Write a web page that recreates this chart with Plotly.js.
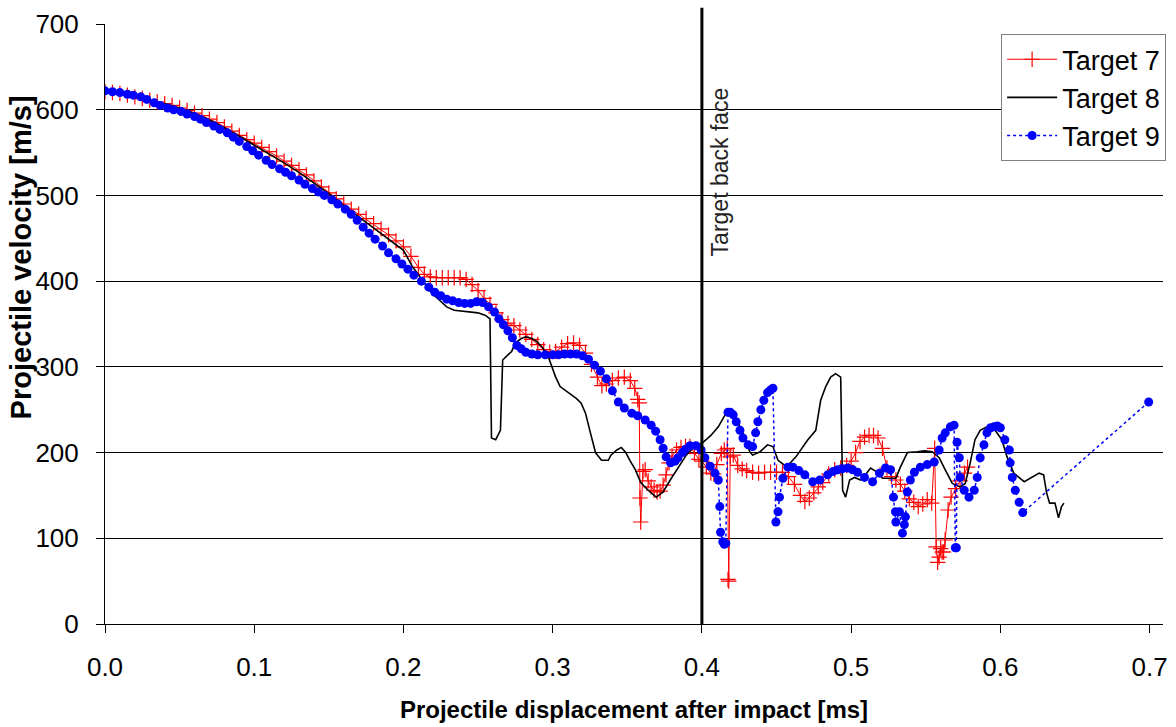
<!DOCTYPE html>
<html>
<head>
<meta charset="utf-8">
<script src="https://cdn.plot.ly/plotly-3.0.1.min.js"></script>
<style>html,body{margin:0;padding:0;background:#fff;}</style>
</head>
<body>
<div id="chart" style="width:1176px;height:727px;"></div>
<script>
// ---- Data ----
const seriesNames = ["Target 7", "Target 8", "Target 9"];

const t7x = [0,0.005,0.01,0.015,0.02,0.025,0.03,0.035,0.04,0.045,0.05,0.055,0.06,0.065,0.07,0.075,0.08,0.085,0.09,0.095,0.1,0.105,0.11,0.115,0.12,0.125,0.13,0.135,0.14,0.145,0.15,0.155,0.16,0.165,0.17,0.175,0.18,0.185,0.19,0.195,0.2,0.205,0.21,0.214,0.218,0.222,0.226,0.23,0.234,0.238,0.242,0.246,0.25,0.254,0.258,0.262,0.266,0.27,0.274,0.278,0.282,0.286,0.29,0.294,0.298,0.302,0.306,0.31,0.314,0.318,0.322,0.326,0.33,0.333,0.336,0.34,0.344,0.348,0.352,0.355,0.357,0.358,0.3585,0.359,0.3605,0.362,0.364,0.366,0.368,0.37,0.372,0.374,0.376,0.378,0.38,0.383,0.386,0.389,0.392,0.395,0.398,0.4,0.403,0.406,0.408,0.41,0.413,0.415,0.417,0.4175,0.418,0.419,0.421,0.424,0.427,0.43,0.434,0.438,0.442,0.446,0.45,0.454,0.458,0.462,0.466,0.469,0.472,0.475,0.478,0.481,0.485,0.489,0.493,0.497,0.5,0.503,0.506,0.509,0.512,0.515,0.518,0.521,0.524,0.527,0.53,0.533,0.536,0.539,0.542,0.545,0.548,0.551,0.554,0.556,0.557,0.558,0.559,0.56,0.561,0.562,0.563,0.565,0.567,0.57,0.573,0.576,0.578];
const t7y = [621,620,619,617,615,613,611,609,607,605,602,599,596,593,589,585,580,575,570,565,561,556,551,546,540,535,530,524,517,510,503,496,490,484,478,473,467,461,454,447,440,429,416,408,405,404,404,404,404,404,402,396,389,380,373,363,355,351,348,343,338,332,326,320,317,318,323,327,328,325,316,303,288,278,280,284,287,288,284,275,262,258,147,119,178,180,167,160,156,154,155,162,174,188,196,203,206,207,207,199,192,190,183,176,175,186,199,203,205,52,50,195,197,185,181,179,177,176,177,177,177,177,172,163,150,143,147,153,160,165,175,180,182,185,190,200,213,218,220,220,217,205,182,172,168,163,155,146,142,137,140,145,141,205,90,72,78,88,84,84,98,133,148,158,167,176,183];

const t8x = [0,0.01,0.02,0.03,0.04,0.05,0.06,0.07,0.08,0.09,0.1,0.11,0.12,0.13,0.14,0.15,0.16,0.17,0.18,0.19,0.2,0.206,0.212,0.219,0.224,0.229,0.234,0.239,0.244,0.25,0.255,0.258,0.259,0.2618,0.265,0.2665,0.27,0.2725,0.275,0.279,0.282,0.286,0.289,0.293,0.297,0.3,0.302,0.305,0.309,0.313,0.316,0.319,0.322,0.3253,0.3287,0.3327,0.3373,0.339,0.343,0.346,0.349,0.352,0.3554,0.359,0.364,0.3694,0.374,0.3788,0.384,0.3895,0.394,0.3975,0.4008,0.406,0.411,0.4175,0.421,0.424,0.429,0.432,0.434,0.439,0.444,0.4476,0.451,0.4556,0.4576,0.463,0.467,0.471,0.4763,0.4796,0.483,0.4863,0.4896,0.493,0.4943,0.4963,0.499,0.5023,0.5063,0.51,0.513,0.5177,0.521,0.5257,0.53,0.533,0.5377,0.5444,0.549,0.5544,0.559,0.563,0.5678,0.573,0.5765,0.5798,0.583,0.5865,0.591,0.5965,0.601,0.6045,0.609,0.616,0.621,0.626,0.629,0.631,0.633,0.6366,0.639,0.641,0.6426];
const t8y = [620,618,615,611,607,602,596,588,579,569,559,549,538,527,515,502,488,475,463,450,436,417,402,386,378,370,366,365,364,363,360,356,217,215,226,308,314,318,328,333,335,333,330,323,312,297,288,277,272,267,263,258,246,223,200,191,191,197,203,206,200,190,180,165,156,148,154,168,182,197,205,209,212,220,230,250,246,236,217,201,197,201,209,207,191,185,185,195,205,215,226,261,277,288,292,288,156,148,168,171,168,175,182,177,170,170,170,183,200,201,202,201,194,180,164,160,164,188,215,226,230,226,215,195,176,166,171,176,174,153,141,141,124,137,141];

const t9x = [0,0.005,0.01,0.015,0.019,0.024,0.028,0.033,0.037,0.042,0.046,0.051,0.055,0.06,0.064,0.068,0.073,0.077,0.082,0.086,0.09,0.095,0.099,0.103,0.108,0.112,0.117,0.121,0.125,0.13,0.134,0.139,0.143,0.147,0.152,0.156,0.161,0.165,0.169,0.173,0.177,0.181,0.186,0.19,0.195,0.199,0.203,0.207,0.212,0.217,0.221,0.225,0.229,0.233,0.237,0.241,0.245,0.249,0.253,0.257,0.261,0.264,0.267,0.27,0.273,0.276,0.279,0.282,0.286,0.29,0.295,0.3,0.304,0.308,0.312,0.316,0.32,0.324,0.328,0.332,0.336,0.34,0.344,0.348,0.353,0.357,0.362,0.366,0.369,0.372,0.374,0.376,0.379,0.382,0.384,0.387,0.389,0.392,0.396,0.3995,0.402,0.4055,0.4088,0.411,0.412,0.4125,0.414,0.415,0.416,0.4175,0.419,0.421,0.423,0.4255,0.4275,0.431,0.434,0.436,0.4375,0.4395,0.4415,0.444,0.446,0.4476,0.4496,0.451,0.452,0.4543,0.4576,0.461,0.465,0.469,0.4743,0.479,0.4843,0.488,0.491,0.494,0.4977,0.501,0.5043,0.509,0.5144,0.519,0.523,0.5264,0.5284,0.5297,0.53,0.5324,0.5344,0.5357,0.5364,0.5377,0.5397,0.5424,0.5464,0.551,0.5557,0.559,0.561,0.5631,0.5665,0.569,0.5698,0.5705,0.571,0.5725,0.573,0.5758,0.579,0.5825,0.5845,0.5865,0.589,0.591,0.5935,0.5958,0.598,0.6,0.603,0.606,0.6066,0.608,0.61,0.6126,0.615,0.6994];
const t9y = [622,621,620,618,617,615,612,608,605,602,600,598,595,592,589,585,581,577,573,568,563,557,552,547,541,536,531,527,523,518,513,508,504,500,495,490,484,478,471,463,456,449,441,433,426,420,414,407,400,393,387,383,379,377,375,374,374,376,375,370,364,356,349,342,334,325,321,317,315,314,314,314,314,315,315,315,313,309,302,295,286,272,259,252,246,243,238,232,225,215,205,195,188,190,194,200,204,208,208,203,194,184,176,168,137,107,96,93,94,247,247,244,236,226,217,209,207,223,236,250,261,270,273,275,119,131,148,170,183,183,179,174,166,168,174,178,180,181,182,180,177,171,166,176,182,180,148,131,119,131,106,116,125,154,168,177,183,186,189,203,217,223,230,232,89,89,212,194,171,156,148,156,171,194,209,223,229,230,231,229,215,203,188,171,156,142,130,259];

const xTickVals = [0, 0.1, 0.2, 0.3, 0.4, 0.5, 0.6, 0.7];
const xTickText = ["0.0", "0.1", "0.2", "0.3", "0.4", "0.5", "0.6", "0.7"];
const yTickVals = [0, 100, 200, 300, 400, 500, 600, 700];
const backFaceX = 0.4;

const xTitle = "Projectile displacement after impact [ms]";
const yTitle = "Projectile velocity [m/s]";
const backFaceLabel = "Target back face";

// ---- Styling ----
const narrow = "Liberation Sans Narrow, Arial Narrow, sans-serif";
const sans = "Liberation Sans, Arial, sans-serif";

const traces = [
  {
    x: t7x, y: t7y, name: seriesNames[0], type: "scatter", mode: "lines+markers",
    line: {color: "#ff0000", width: 1},
    marker: {symbol: "cross-thin-open", size: 11, color: "#ff0000", line: {color: "#ff0000", width: 1.2}},
    legendgroup: "a"
  },
  {
    x: t8x, y: t8y, name: seriesNames[1], type: "scatter", mode: "lines",
    line: {color: "#000000", width: 1.6},
    legendgroup: "b"
  },
  {
    x: t9x, y: t9y, name: seriesNames[2], type: "scatter", mode: "lines+markers",
    line: {color: "#0000ff", width: 1.5, dash: "dot"},
    marker: {symbol: "circle", size: 9, color: "#0000ff"},
    legendgroup: "c"
  }
];

const layout = {
  width: 1176, height: 727,
  margin: {l: 105, r: 10, t: 24, b: 103},
  paper_bgcolor: "#ffffff", plot_bgcolor: "#ffffff",
  showlegend: true,
  xaxis: {
    range: [0, 0.709],
    tickvals: xTickVals, ticktext: xTickText,
    ticks: "outside", ticklen: 8, tickcolor: "#000", tickwidth: 1,
    showline: true, linecolor: "#000", linewidth: 1,
    showgrid: false, zeroline: false,
    tickfont: {family: narrow, size: 26, color: "#000"},
    ticklabelstandoff: 12,
    title: {text: "<b>" + xTitle + "</b>", font: {family: sans, size: 24, color: "#000"}, standoff: 19}
  },
  yaxis: {
    range: [0, 700],
    tickvals: yTickVals,
    ticks: "outside", ticklen: 8, tickcolor: "#000", tickwidth: 1,
    showline: true, linecolor: "#000", linewidth: 1,
    showgrid: true, gridcolor: "#000", gridwidth: 1,
    zeroline: false,
    tickfont: {family: narrow, size: 26, color: "#000"},
    ticklabelstandoff: 12
  },
  legend: {
    x: 0.847, y: 0.983, xanchor: "left", yanchor: "top",
    bgcolor: "#ffffff", bordercolor: "#808080", borderwidth: 1,
    font: {family: narrow, size: 27, color: "#000"},
    itemwidth: 50, tracegroupgap: 2, traceorder: "normal"
  },
  shapes: [
    {type: "line", xref: "x", yref: "paper", x0: backFaceX, x1: backFaceX, y0: 0, y1: 1.027,
     line: {color: "#000", width: 3}, layer: "above"}
  ],
  annotations: [
    {text: "<b>" + yTitle + "</b>", xref: "paper", yref: "paper", x: -0.079, y: 0.6117,
     textangle: -90, showarrow: false, xanchor: "center", yanchor: "middle",
     font: {family: sans, size: 29, color: "#000"}},
    {text: backFaceLabel, xref: "x", yref: "y", x: 0.4122, y: 527,
     textangle: -90, showarrow: false, xanchor: "center", yanchor: "middle",
     font: {family: sans, size: 23, color: "#222"}}
  ]
};

Plotly.newPlot("chart", traces, layout, {displayModeBar: false, staticPlot: true});
</script>
</body>
</html>
